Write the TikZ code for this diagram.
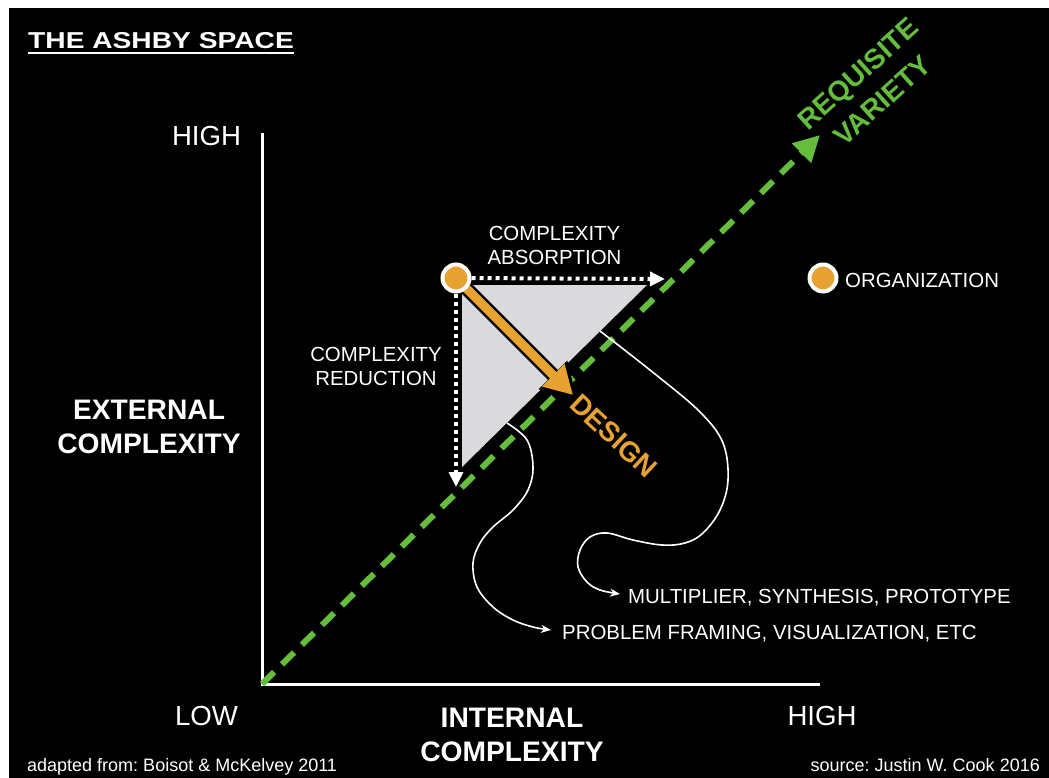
\documentclass[tikz,border=0pt]{standalone}
\usepackage{fontspec}
\setmainfont{Liberation Sans}
\usepackage{graphicx}
\usetikzlibrary{arrows.meta}
\frenchspacing
\definecolor{rvgreen}{RGB}{100,190,60}
\definecolor{dotorange}{RGB}{232,162,50}
\definecolor{trigray}{RGB}{218,218,220}
\newcommand\lblsmall{\fontsize{20.4}{24}\selectfont}
\newcommand\lblbig{\fontsize{27.6}{33}\selectfont}
\newcommand\lblbold{\bfseries\fontsize{28.2}{34}\selectfont}
\newcommand\lblfoot{\fontsize{18}{22}\selectfont}
\newcommand\lbltitle{\bfseries\fontsize{23}{28}\selectfont}
\newcommand\lbldiag{\bfseries\fontsize{28}{36}\selectfont}
\tikzset{
  lbl/.style={text=white, inner sep=0pt, font=\lblsmall, align=center},
  biglbl/.style={text=white, inner sep=0pt, font=\lblbig},
  boldlbl/.style={text=white, inner sep=0pt, font=\lblbold, align=center},
  footlbl/.style={text=white, inner sep=0pt, font=\lblfoot},
  axisline/.style={white, line width=3pt},
  rvline/.style={rvgreen, line width=6pt, dash pattern=on 17pt off 11pt, -{Triangle[length=26pt,width=26pt]}},
  dotarrow/.style={white, line width=4pt, dash pattern=on 4pt off 4pt, -{Triangle[length=15pt,width=14pt]}},
  orgdot/.style={circle, fill=dotorange, draw=white, line width=4pt, minimum size=27pt, inner sep=0pt},
  flowcurve/.style={white, line width=1.6pt, -{Stealth[length=10pt,width=8pt]}},
}
\begin{document}
\begin{tikzpicture}[x=1pt,y=-1pt]
\useasboundingbox (0,0) rectangle (1049,778);
\fill[white] (0,0) rectangle (1049,778);
\fill[black] (9,8) rectangle (1049,778);

% title
\node[text=white, inner sep=0pt, font=\lbltitle, anchor=base west] (title) at (28,48.5) {\scalebox{1.225}[1]{THE ASHBY SPACE}};
\draw[white, line width=2pt] ([yshift=-5pt]title.base west) -- ([yshift=-5pt]title.base east);

% axes
\coordinate (origin) at (262,684);
\coordinate (ytop) at (262,133);
\coordinate (xend) at (820,684);
\draw[axisline] (ytop) -- (origin) -- (xend);

% axis labels
\node[biglbl, anchor=base] (yhigh) at (206.5,146) {HIGH};
\node[biglbl, anchor=base] (xlow) at (206.5,725) {LOW};
\node[biglbl, anchor=base] (xhigh) at (822,725) {HIGH};
\node[boldlbl, anchor=base] (ylabel) at (149,453) {EXTERNAL\\COMPLEXITY};
\node[boldlbl, anchor=base] (xlabel) at (512,761) {INTERNAL\\COMPLEXITY};

% triangle
\coordinate (t1) at (462,285);
\coordinate (t2) at (647,285);
\coordinate (t3) at (462,467);
\fill[trigray] (t1) -- (t2) -- (t3) -- cycle;

% requisite variety line
\coordinate (rvtip) at (820,135);
\draw[rvline] (origin) -- (rvtip);
\node[text=rvgreen, inner sep=0pt, font=\lbldiag, align=center, rotate=42] (rvlabel) at (870,87) {REQUISITE\\VARIETY};

% design arrow
\coordinate (o1) at (456,278);
\coordinate (designTip) at (573,395);
\coordinate (designBack) at (577,399);
\draw[black, line width=14pt, -{Triangle[length=34pt,width=38pt]}] (o1) -- (designBack);
\draw[dotorange, line width=9pt, -{Triangle[length=28pt,width=30pt]}] (o1) -- (designTip);
\node[text=dotorange, inner sep=0pt, font=\lbldiag, rotate=-43] (design) at (614,436) {DESIGN};

% organization dots
\node[orgdot] (org1) at (o1) {};
\node[orgdot] (org2) at (823,278) {};
\node[lbl, anchor=base west] (orglbl) at (845,287) {ORGANIZATION};

% dotted arrows
\coordinate (absorbEnd) at (665,279);
\coordinate (reduceEnd) at (456,487);
\draw[dotarrow] (org1) -- (absorbEnd);
\draw[dotarrow] (org1) -- (reduceEnd);
\node[lbl, anchor=base] (absorb) at (554.5,264) {COMPLEXITY\\ABSORPTION};
\node[lbl, anchor=base] (reduce) at (376,385) {COMPLEXITY\\REDUCTION};

% outcome labels and curves
\node[lbl, anchor=base west] (mult) at (628,603) {MULTIPLIER, SYNTHESIS, PROTOTYPE};
\node[lbl, anchor=base west] (frame) at (562,639) {PROBLEM FRAMING, VISUALIZATION, ETC};
\coordinate (c1s) at (600,331);
\coordinate (c2s) at (507,423);
\coordinate (c1e) at (620,594);
\coordinate (c2e) at (551,630);
\draw[flowcurve] plot[smooth, tension=0.6] coordinates {(c1s) (655,374) (700,412) (723,443) (728,480) (720,510) (703,533) (685,543) (662,545) (633,540) (607,533) (590,537) (580,550) (578,567) (587,582) (600,590) (c1e)};
\draw[flowcurve] plot[smooth, tension=0.6] coordinates {(c2s) (527,440) (533,467) (528,490) (513,510) (493,527) (480,543) (473,563) (477,587) (493,607) (513,620) (533,627) (c2e)};

% footer
\node[footlbl, anchor=base west] (adapted) at (27,771) {adapted from: Boisot \& McKelvey 2011};
\node[footlbl, anchor=base east] (source) at (1040,771) {source: Justin W. Cook 2016};
\end{tikzpicture}
\end{document}
